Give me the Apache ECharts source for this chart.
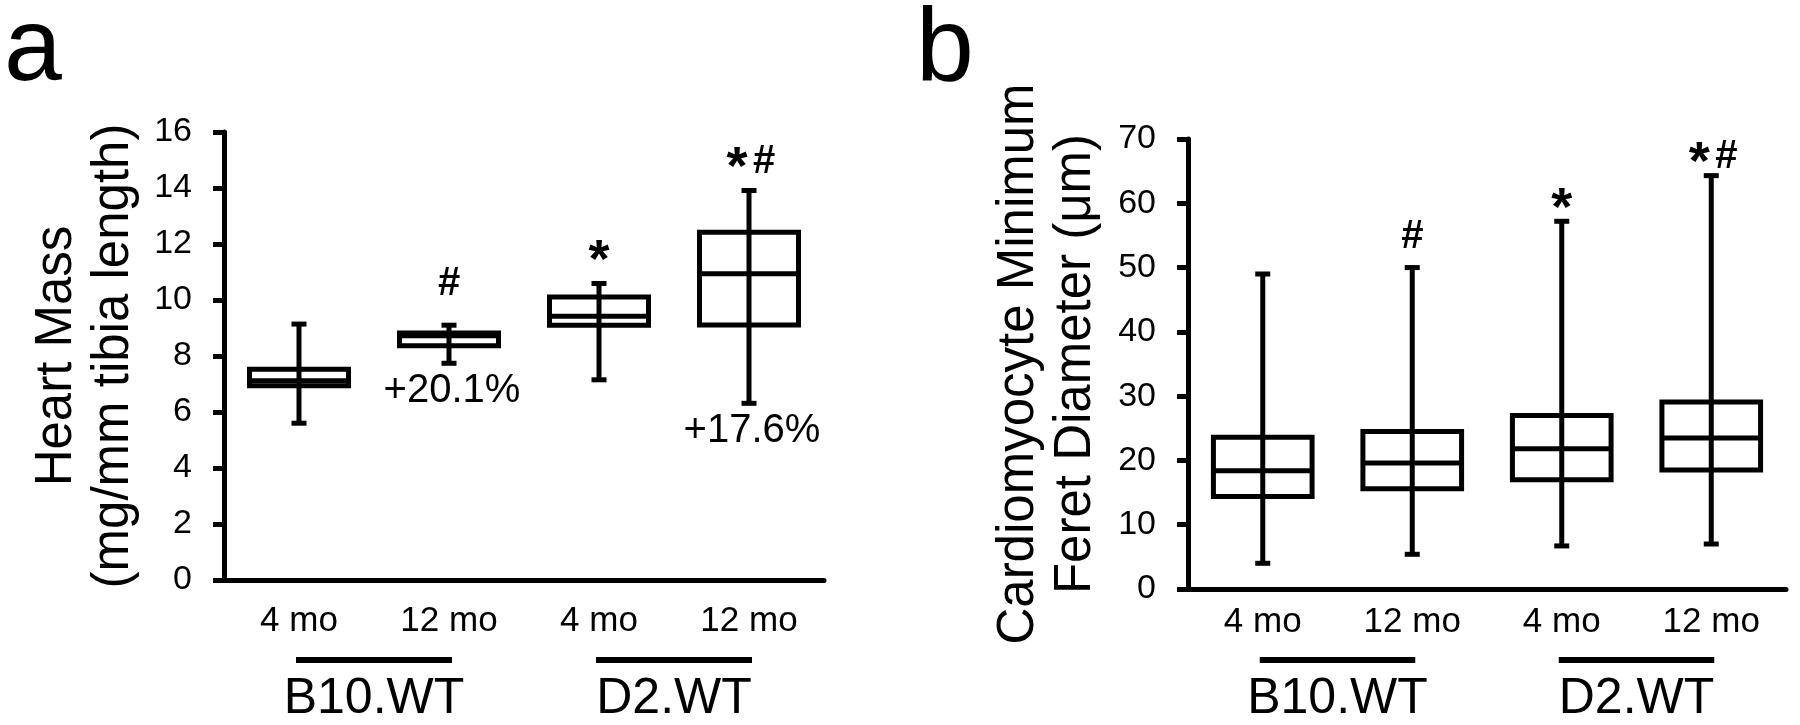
<!DOCTYPE html>
<html><head><meta charset="utf-8">
<script src="https://cdn.jsdelivr.net/npm/echarts@6/dist/echarts.min.js"></script>
<style>html,body{margin:0;padding:0;background:#fff}#c{width:1800px;height:725px}</style>
</head><body><div id="c"></div>
<script>
// ---- data ----
const categories = ['4 mo', '12 mo', '4 mo', '12 mo'];
const groupNames = ['B10.WT', 'D2.WT'];
const groupSpans = [[0, 1], [2, 3]];
// each row: [min, Q1, median, Q3, max]
const heartMass = [
  [5.60, 6.94, 7.12, 7.53, 9.14],
  [7.74, 8.37, 8.72, 8.82, 9.10],
  [7.15, 9.10, 9.42, 10.11, 10.59],
  [6.31, 9.11, 10.94, 12.42, 13.91]
];
const heartMarks = ['', '#', '*', '*#'];
const heartPct = ['', '+20.1%', '', '+17.6%'];
const heartTicks = [0, 2, 4, 6, 8, 10, 12, 14, 16];

const feret = [
  [4.0, 14.4, 18.4, 23.6, 49.0],
  [5.4, 15.6, 19.6, 24.5, 50.0],
  [6.7, 17.0, 21.8, 27.0, 57.2],
  [7.0, 18.5, 23.5, 29.1, 64.3]
];
const feretMarks = ['', '#', '*', '*#'];
const feretPct = ['', '', '', ''];
const feretTicks = [0, 10, 20, 30, 40, 50, 60, 70];

// ---- styles ----
const FONT = '"Liberation Sans", Arial, Helvetica, sans-serif';
const LW = 5;
const STAR_SIZE = 54, HASH_SIZE = 40;

function boxRows(rows) {
  return rows.map((r, i) => [i].concat(r));
}

function boxRenderer(marks, pcts, markGap, pctGap) {
  return function (params, api) {
    const i = api.value(0);
    const pMin = api.coord([i, api.value(1)]);
    const pQ1 = api.coord([i, api.value(2)]);
    const pMed = api.coord([i, api.value(3)]);
    const pQ3 = api.coord([i, api.value(4)]);
    const pMax = api.coord([i, api.value(5)]);
    const bw = api.size([1, 0])[0] * 0.66;
    const cx = pMin[0];
    const capW = 15;
    const ls = { stroke: '#000', lineWidth: LW, fill: 'none' };
    const children = [
      { type: 'line', shape: { x1: cx, y1: pMin[1], x2: cx, y2: pMax[1] }, style: ls },
      { type: 'line', shape: { x1: cx - capW / 2, y1: pMin[1], x2: cx + capW / 2, y2: pMin[1] }, style: ls },
      { type: 'line', shape: { x1: cx - capW / 2, y1: pMax[1], x2: cx + capW / 2, y2: pMax[1] }, style: ls },
      { type: 'rect', shape: { x: cx - bw / 2, y: pQ3[1], width: bw, height: pQ1[1] - pQ3[1] }, style: ls },
      { type: 'line', shape: { x1: cx - bw / 2, y1: pMed[1], x2: cx + bw / 2, y2: pMed[1] }, style: ls }
    ];
    const m = marks[i] || '';
    const hasStar = m.indexOf('*') >= 0, hasHash = m.indexOf('#') >= 0;
    if (hasStar) {
      const starY = pMax[1] - markGap;
      children.push({
        type: 'text', x: cx + (hasHash ? -12 : 0), y: starY + 0.23 * STAR_SIZE,
        style: { text: '*', fontSize: STAR_SIZE, fontWeight: 'bold', fontFamily: FONT, fill: '#000', align: 'center', verticalAlign: 'middle' }
      });
    }
    if (hasHash) {
      const hashY = pMax[1] - (hasStar ? markGap - 3.5 : markGap + 8.5);
      children.push({
        type: 'text', x: cx + (hasStar ? 15 : 0), y: hashY + 0.04 * HASH_SIZE,
        style: { text: '#', fontSize: HASH_SIZE, fontWeight: 'bold', fontFamily: FONT, fill: '#000', align: 'center', verticalAlign: 'middle' }
      });
    }
    if (pcts[i]) {
      children.push({
        type: 'text', x: cx + 3, y: pMin[1] + pctGap,
        style: { text: pcts[i], fontSize: 40, fontFamily: FONT, fill: '#000', align: 'center', verticalAlign: 'top' }
      });
    }
    return { type: 'group', children: children };
  };
}

function groupRenderer(lineOffset, labelOffset) {
  return function (params, api) {
    const a = api.coord([api.value(0), 0]);
    const b = api.coord([api.value(1), 0]);
    const y0 = a[1];
    return {
      type: 'group', children: [
        { type: 'line', shape: { x1: a[0] - 3, y1: y0 + lineOffset, x2: b[0] + 3, y2: y0 + lineOffset }, style: { stroke: '#000', lineWidth: 6 } },
        { type: 'text', x: (a[0] + b[0]) / 2, y: y0 + labelOffset,
          style: { text: groupNames[params.dataIndex], fontSize: 50, fontFamily: FONT, fill: '#000', align: 'center', verticalAlign: 'top' } }
      ]
    };
  };
}

function xAxisCfg(gi, margin) {
  return {
    type: 'category', gridIndex: gi, data: categories, boundaryGap: true,
    axisLine: { show: true, lineStyle: { color: '#000', width: LW } },
    axisTick: { show: false },
    axisLabel: { interval: 0, fontSize: 35, fontFamily: FONT, color: '#000', margin: margin },
    splitLine: { show: false }
  };
}
function yAxisCfg(gi, ticks, name, nameGap) {
  return {
    type: 'value', gridIndex: gi,
    min: ticks[0], max: ticks[ticks.length - 1], interval: ticks[1] - ticks[0],
    name: name, nameLocation: 'middle', nameRotate: 90, nameGap: nameGap,
    nameTextStyle: { fontSize: 51, fontFamily: FONT, color: '#000', lineHeight: 57 },
    axisLine: { show: true, lineStyle: { color: '#000', width: LW } },
    axisTick: { show: true, length: 11, lineStyle: { color: '#000', width: LW } },
    axisLabel: { fontSize: 34, fontFamily: FONT, color: '#000', margin: 32 },
    splitLine: { show: false }
  };
}

const chart = echarts.init(document.getElementById('c'), null, { renderer: 'canvas' });
chart.setOption({
  backgroundColor: '#fff',
  animation: false,
  title: [
    { text: 'a', left: 4, top: -1, padding: 0, textStyle: { fontSize: 104, fontWeight: 'normal', color: '#000', fontFamily: FONT } },
    { text: 'b', left: 916, top: -1, padding: 0, textStyle: { fontSize: 104, fontWeight: 'normal', color: '#000', fontFamily: FONT } }
  ],
  grid: [
    { left: 224, top: 132, width: 600, height: 448 },
    { left: 1188, top: 139, width: 598, height: 450 }
  ],
  xAxis: [xAxisCfg(0, 24), xAxisCfg(1, 16)],
  yAxis: [
    yAxisCfg(0, heartTicks, 'Heart Mass\n(mg/mm tibia length)', 82),
    yAxisCfg(1, feretTicks, 'Cardiomyocyte Minimum\nFeret Diameter (\u03bcm)', 84)
  ],
  series: [
    { type: 'custom', xAxisIndex: 0, yAxisIndex: 0, clip: false, data: boxRows(heartMass),
      encode: { x: 0, y: [1, 2, 3, 4, 5] }, renderItem: boxRenderer(heartMarks, heartPct, 34, 8) },
    { type: 'custom', xAxisIndex: 1, yAxisIndex: 1, clip: false, data: boxRows(feret),
      encode: { x: 0, y: [1, 2, 3, 4, 5] }, renderItem: boxRenderer(feretMarks, feretPct, 24, 8) },
    { type: 'custom', xAxisIndex: 0, yAxisIndex: 0, clip: false, data: groupSpans,
      encode: { x: 0, y: 1 }, renderItem: groupRenderer(80, 94) },
    { type: 'custom', xAxisIndex: 1, yAxisIndex: 1, clip: false, data: groupSpans,
      encode: { x: 0, y: 1 }, renderItem: groupRenderer(71, 85) }
  ]
});
</script>
</body></html>
